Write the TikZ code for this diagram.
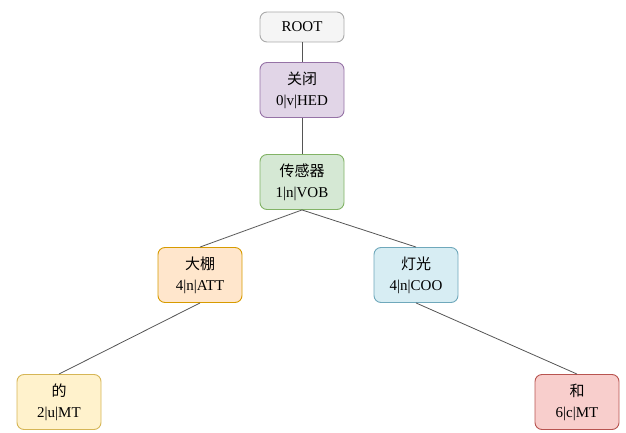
\documentclass[tikz,border=0pt]{standalone}
\usepackage{fontspec}
\setmainfont{Liberation Serif}
\newfontfamily\zhfont{Noto Sans CJK SC}
\usepackage{tikz}
\usetikzlibrary{positioning, shapes}

\definecolor{grayfill}{HTML}{F5F5F5}
\definecolor{grayline}{HTML}{AAAAAA}
\definecolor{purpfill}{HTML}{E1D5E7}
\definecolor{purpline}{HTML}{9673A6}
\definecolor{greenfill}{HTML}{D5E8D4}
\definecolor{greenline}{HTML}{82B366}
\definecolor{orangefill}{HTML}{FFE6CC}
\definecolor{orangeline}{HTML}{D79B00}
\definecolor{bluefill}{HTML}{D7EDF3}
\definecolor{blueline}{HTML}{6FA8BB}
\definecolor{yellowfill}{HTML}{FFF2CC}
\definecolor{yellowline}{HTML}{D6B656}
\definecolor{redfill}{HTML}{F8CECC}
\definecolor{redline}{HTML}{B85450}
\definecolor{edgecol}{HTML}{555555}

\begin{document}
\begin{tikzpicture}
[
   x=1pt,y=-1pt,
   word/.style={draw, rounded corners=7pt, line width=0.9pt, minimum width=84pt,
      minimum height=55pt, align=center, font=\fontsize{15}{21}\selectfont, inner sep=2pt},
   dep/.style={draw=edgecol, line width=0.8pt}]
\useasboundingbox (0,0) rectangle (626,433);

\node[word, minimum height=30pt, fill=grayfill, draw=grayline] (root) at (302,27) {ROOT};
\node[word, fill=purpfill, draw=purpline] (guanbi) at (302,90) {{\zhfont 关闭}\\0|v|HED};
\node[word, fill=greenfill, draw=greenline] (chuanganqi) at (302,182) {{\zhfont 传感器}\\1|n|VOB};
\node[word, fill=orangefill, draw=orangeline] (dapeng) at (200,275) {{\zhfont 大棚}\\4|n|ATT};
\node[word, fill=bluefill, draw=blueline] (dengguang) at (416,275) {{\zhfont 灯光}\\4|n|COO};
\node[word, fill=yellowfill, draw=yellowline] (de) at (59,402) {{\zhfont 的}\\2|u|MT};
\node[word, fill=redfill, draw=redline] (he) at (577,402) {{\zhfont 和}\\6|c|MT};

\draw[dep] (root) -- (guanbi);
\draw[dep] (guanbi) -- (chuanganqi);
\draw[dep] (chuanganqi.south) -- (dapeng.north);
\draw[dep] (chuanganqi.south) -- (dengguang.north);
\draw[dep] (dapeng.south) -- (de.north);
\draw[dep] (dengguang.south) -- (he.north);

\end{tikzpicture}
\end{document}
